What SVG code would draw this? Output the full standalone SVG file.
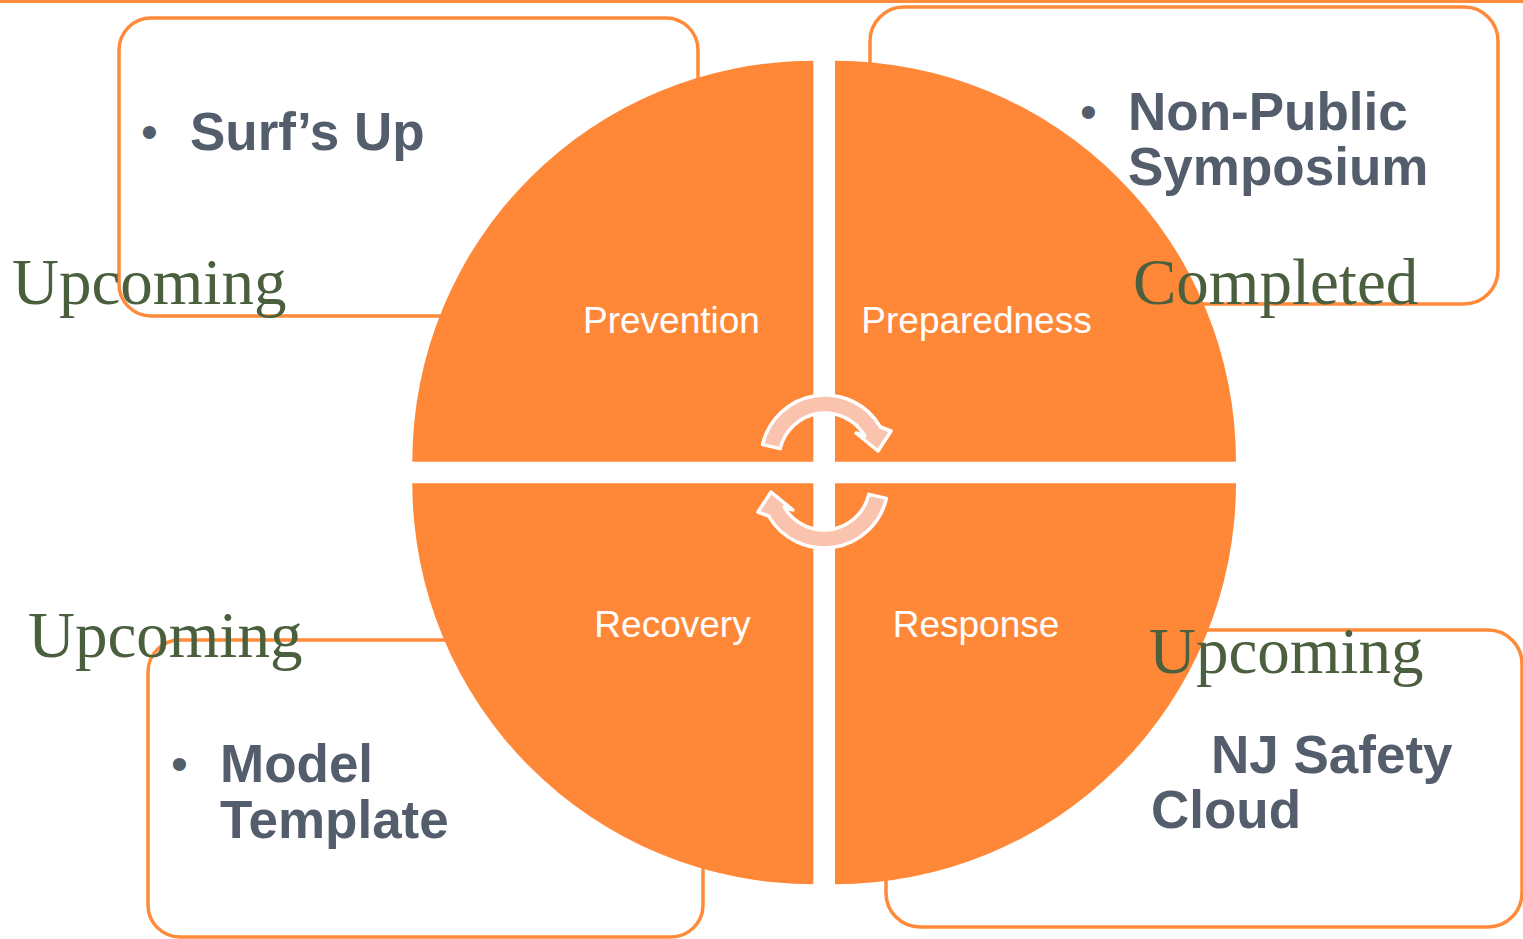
<svg xmlns="http://www.w3.org/2000/svg" width="1523" height="939" viewBox="0 0 1523 939">
<style>
.box{fill:#FFFFFF;stroke:#FF8A3A;stroke-width:3.5}
.quad{fill:#FF8838}
.ql{font-family:"Liberation Sans",Arial,sans-serif;font-size:37px;fill:#FFFFFF;text-anchor:middle}
.bt{font-family:"Liberation Sans",Arial,sans-serif;font-size:53px;font-weight:bold;fill:#535D6B}
.bul{font-family:"Liberation Sans",Arial,sans-serif;font-size:48px;fill:#535D6B}
.st{font-family:"Liberation Serif","Times New Roman",serif;font-size:65px;fill:#4A5F3D}
.arr{fill:#F9C3AE;stroke:#FFFFFF;stroke-width:3.5;stroke-linejoin:round}
</style>
<rect x="0" y="0" width="1523" height="939" fill="#FFFFFF"/>
<line x1="0" y1="1.5" x2="1523" y2="1.5" stroke="#FF8A3A" stroke-width="3"/>
<g id="box-prevention"><rect class="box" x="119" y="18" width="579" height="298" rx="32"/></g>
<g id="box-preparedness"><rect class="box" x="870" y="7" width="628" height="297" rx="34"/></g>
<g id="box-recovery"><rect class="box" x="148" y="640" width="555" height="297" rx="32"/></g>
<g id="box-response"><rect class="box" x="886" y="630" width="636" height="297" rx="34"/></g>
<g id="prevention"><path class="quad" d="M813.3,461.7 L412.3,461.7 A401,401 0 0 1 813.3,60.7 Z"/><text class="ql" x="671.5" y="333">Prevention</text></g>
<g id="preparedness"><path class="quad" d="M835,461.7 L835,60.7 A401,401 0 0 1 1236,461.7 Z"/><text class="ql" x="976.5" y="333">Preparedness</text></g>
<g id="response"><path class="quad" d="M835,483.3 L1236,483.3 A401,401 0 0 1 835,884.3 Z"/><text class="ql" x="976" y="637">Response</text></g>
<g id="recovery"><path class="quad" d="M813.3,483.3 L813.3,884.3 A401,401 0 0 1 412.3,483.3 Z"/><text class="ql" x="672.5" y="637">Recovery</text></g>
<g id="connectors">
<path class="arr" d="M762.6,444.6 A64,64 0 0 1 880.4,427 L891,431 L878,451 L856,433 L864.8,436 A46,46 0 0 0 780.2,448.6 Z"/>
<path class="arr" transform="rotate(180 824.5 471.5)" d="M762.6,444.6 A64,64 0 0 1 880.4,427 L891,431 L878,451 L856,433 L864.8,436 A46,46 0 0 0 780.2,448.6 Z"/>
</g>
<g id="text-prevention">
<text class="bul" x="141" y="148">•</text>
<text class="bt" x="190" y="150">Surf’s Up</text>
<text class="st" x="12" y="304">Upcoming</text>
</g>
<g id="text-preparedness">
<text class="bul" x="1080" y="128">•</text>
<text class="bt" x="1128" y="130">Non-Public</text>
<text class="bt" x="1128" y="185">Symposium</text>
<text class="st" x="1133" y="304">Completed</text>
</g>
<g id="text-recovery">
<text class="bul" x="171" y="780">•</text>
<text class="bt" x="220" y="782">Model</text>
<text class="bt" x="220" y="838">Template</text>
<text class="st" x="28" y="657">Upcoming</text>
</g>
<g id="text-response">
<text class="bt" x="1211" y="773">NJ Safety</text>
<text class="bt" x="1151" y="828">Cloud</text>
<text class="st" x="1149" y="673">Upcoming</text>
</g>
</svg>
